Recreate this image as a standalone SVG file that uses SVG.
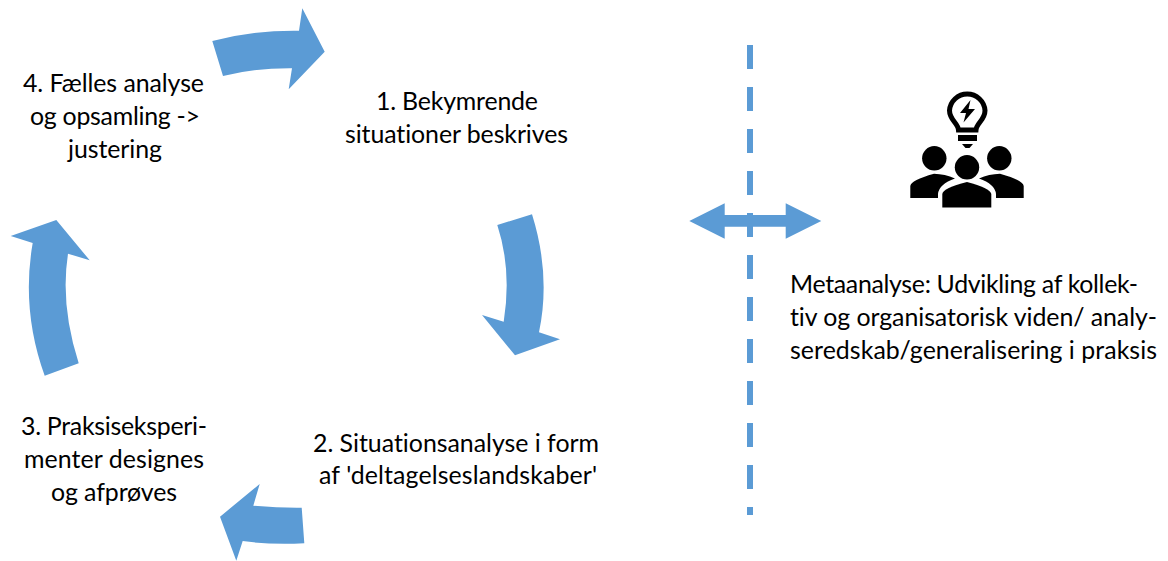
<svg xmlns="http://www.w3.org/2000/svg" width="1168" height="561" viewBox="0 0 1168 561">
<style>
.a{fill:#5b9bd5}
.t{font-family:"Lato","Carlito","Open Sans",sans-serif;font-size:24.9px;fill:#000;text-anchor:middle;font-variant-ligatures:none}
.m{text-anchor:start}
</style>
<rect width="1168" height="561" fill="#fff"/>
<g id="connectors">
<path id="divider" d="M750 45V515" fill="none" stroke="#5b9bd5" stroke-width="6" stroke-dasharray="24 18"/>
<path class="a" d="M212.3 41Q255 30 299 30.7L302.3 8.3L324.7 51.7L288.7 89.3L292 68.3Q255 68 223 76Z"/>
<path class="a" d="M497.3 225L532 214.3Q551 275 539 332.3L560 339.3L515 355.3L482 315L503.7 321.7Q512 270 497.3 225Z"/>
<path class="a" d="M301.7 507.7L304.3 543.3Q270 545 242.7 541L236.3 560.7L220 516.7L259.7 484L253.3 505.7Q280 508 301.7 507.7Z"/>
<path class="a" d="M44.7 375.7L78.7 363.3Q60 305 68 253.7L89.7 260.3L56.3 220L10.7 236L32.7 243Q21 310 44.7 375.7Z"/>
<path class="a" d="M689.3 221L724.7 203.3V215H785.7V203.3L821.3 221L785.7 238.7V226.7H724.7V238.7Z"/>
</g>
<g id="node1"><text class="t" x="457" y="110" textLength="162">1. Bekymrende</text><text class="t" x="456.5" y="143" textLength="223">situationer beskrives</text></g>
<g id="node2"><text class="t" x="456" y="452" textLength="286">2. Situationsanalyse i form</text><text class="t" x="458" y="484" textLength="278">af 'deltagelseslandskaber'</text></g>
<g id="node3"><text class="t" x="114" y="435" textLength="186">3. Praksiseksperi-</text><text class="t" x="114" y="468" textLength="180">menter designes</text><text class="t" x="114" y="501" textLength="126">og afprøves</text></g>
<g id="node4"><text class="t" x="113.5" y="92" textLength="181">4. Fælles analyse</text><text class="t" x="115" y="125" textLength="170">og opsamling -&gt;</text><text class="t" x="115" y="158" textLength="94">justering</text></g>
<g id="node5"><text class="t m" x="790" y="293" textLength="348">Metaanalyse: Udvikling af kollek-</text><text class="t m" x="790" y="326" textLength="367">tiv og organisatorisk viden/ analy-</text><text class="t m" x="790" y="359" textLength="367">seredskab/generalisering i praksis</text></g>
<g id="icon">
<path d="M958.5 130C958 123 949.5 120 949.5 110.5A17.8 17.8 0 0 1 985 110.5C985 120 976.5 123 976 130Z" fill="#fff" stroke="#000" stroke-width="5"/>
<path d="M970.5 100L960 113H966L963.5 122.5L975 109H968.5Z" fill="#000"/>
<rect x="958" y="135" width="19" height="6" fill="#000"/>
<path d="M962 144H973L969.5 148H965.5Z" fill="#000"/>
<circle cx="934.3" cy="158.3" r="12.2"/><circle cx="999.3" cy="158.3" r="12.2"/><circle cx="967" cy="167.3" r="12.2"/>
<path d="M910.3 198V186Q911 180 934 173.7Q945 174 955 178.5Q939 184 938 194V198Z"/>
<path d="M1023.7 198V186Q1023 180 1000 173.7Q989 174 979 178.5Q995 184 996 194V198Z"/>
<path d="M942.3 207.5V194Q943 188 967 182Q990 188 991.3 194V207.5Z"/>
</g>
</svg>
